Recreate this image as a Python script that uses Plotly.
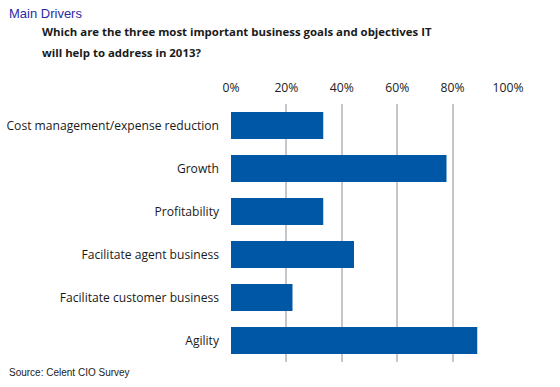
import plotly.graph_objects as go

categories = ["Cost management/expense reduction", "Growth", "Profitability",
              "Facilitate agent business", "Facilitate customer business", "Agility"]
values = [33.3, 77.8, 33.3, 44.4, 22.2, 88.9]
tick_vals = [0, 20, 40, 60, 80, 100]
tick_text = ["0%", "20%", "40%", "60%", "80%", "100%"]

W, H = 560, 387
ML, MR, MT, MB = 231, 52, 104, 25
PW, PH = W - ML - MR, H - MT - MB


def px(x):
    return (x - ML) / PW


def py(y):
    return 1 - (y - MT) / PH


fig = go.Figure(go.Bar(
    x=values, y=categories, orientation="h",
    marker=dict(color="#0057a5", line=dict(width=0)),
    hoverinfo="skip",
))

fig.update_layout(
    width=W, height=H,
    margin=dict(l=ML, r=MR, t=MT, b=MB, autoexpand=False),
    paper_bgcolor="white", plot_bgcolor="white",
    bargap=0.37,
    showlegend=False,
    font=dict(family="Open Sans, DejaVu Sans, sans-serif", size=12, color="#222"),
    xaxis=dict(
        side="top", range=[0, 100], tickvals=tick_vals, ticktext=tick_text,
        showgrid=True, gridcolor="#c3c6ca", gridwidth=1.5,
        zeroline=False, showline=False, ticks="",
        ticklabelstandoff=9, automargin=False,
        tickfont=dict(size=12.2, color="#222"),
        fixedrange=True,
    ),
    yaxis=dict(
        autorange="reversed", showgrid=False, zeroline=False, showline=False,
        ticks="", ticklabelstandoff=11, automargin=False,
        tickfont=dict(size=12.1, color="#1a1a1a"),
        fixedrange=True,
    ),
)

fig.add_annotation(text="Main Drivers", x=px(7), y=py(13), xref="paper", yref="paper",
                   showarrow=False, xanchor="left", yanchor="middle",
                   font=dict(family="Arial, Liberation Sans, sans-serif", size=13, color="#2b2ba3"))
fig.add_annotation(text="<b>Which are the three most important business goals and objectives IT</b>",
                   x=px(40), y=py(32), xref="paper", yref="paper",
                   showarrow=False, xanchor="left", yanchor="middle",
                   font=dict(family="Open Sans, DejaVu Sans, sans-serif", size=11.4, color="#1a1a1a"))
fig.add_annotation(text="<b>will help to address in 2013?</b>",
                   x=px(40), y=py(52), xref="paper", yref="paper",
                   showarrow=False, xanchor="left", yanchor="middle",
                   font=dict(family="Open Sans, DejaVu Sans, sans-serif", size=11.4, color="#1a1a1a"))
fig.add_annotation(text="Source: Celent CIO Survey", x=px(7), y=py(372), xref="paper", yref="paper",
                   showarrow=False, xanchor="left", yanchor="middle",
                   font=dict(family="Arial, Liberation Sans, sans-serif", size=10, color="#222"))

fig.write_html("out.html", config={"displayModeBar": False},
               post_script="document.body.style.margin='0';document.body.style.padding='0';")
